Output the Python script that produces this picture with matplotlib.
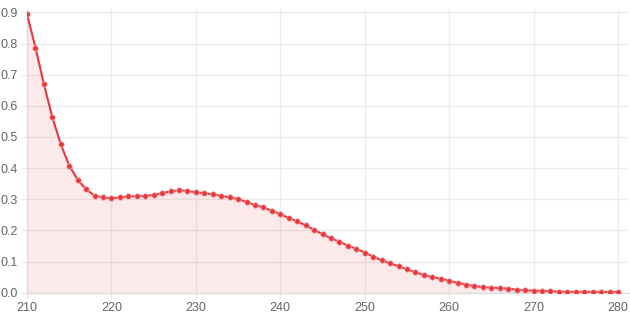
import numpy as np
import matplotlib
matplotlib.use('Agg')
import matplotlib.pyplot as plt

plt.rcParams['font.family'] = ['Liberation Sans', 'DejaVu Sans']

# wavelength (nm) and absorbance
wavelength = list(range(210, 281))
absorbance = [
    0.895, 0.787, 0.670, 0.563, 0.477, 0.408, 0.363, 0.332, 0.312, 0.306,  # 210-219
    0.303, 0.306, 0.309, 0.310, 0.311, 0.314, 0.320, 0.325, 0.329, 0.327,  # 220-229
    0.322, 0.319, 0.316, 0.311, 0.306, 0.301, 0.291, 0.282, 0.274, 0.263,  # 230-239
    0.252, 0.240, 0.229, 0.216, 0.202, 0.188, 0.175, 0.164, 0.151, 0.141,  # 240-249
    0.129, 0.116, 0.104, 0.094, 0.085, 0.075, 0.066, 0.057, 0.050, 0.045,  # 250-259
    0.039, 0.031, 0.026, 0.0215, 0.018, 0.016, 0.015, 0.013, 0.0097, 0.0077,  # 260-269
    0.0065, 0.0062, 0.0045, 0.0035, 0.003, 0.003, 0.0028, 0.0026, 0.0025, 0.0024,  # 270-279
    0.0023,  # 280
]
xticks = [210, 220, 230, 240, 250, 260, 270, 280]
yticks = [0.0, 0.1, 0.2, 0.3, 0.4, 0.5, 0.6, 0.7, 0.8, 0.9]

red = '#e8383d'
grid_col = '#ececec'
text_col = '#666666'

fig = plt.figure(figsize=(6.3, 3.15), dpi=100)
ax = fig.add_axes([27/630, 22.3/315, 602/630, 283.7/315])

ax.fill_between(wavelength, absorbance, 0, color=red, alpha=0.11, linewidth=0)
ax.plot(wavelength, absorbance, color=red, linewidth=1.5, zorder=3)
ax.plot(wavelength, absorbance, 'o', color=red, markersize=4,
        markeredgecolor='#f7b5b7', markeredgewidth=0.5, zorder=4)

# a little headroom above 0.9 like the reference
ax.set_xlim(210, 281.3)
ax.set_ylim(0, 0.911)
ax.set_xticks(xticks)
ax.set_yticks(yticks)
ax.set_yticklabels(['%.1f' % v for v in yticks])

ax.grid(True, color=grid_col, linewidth=1)
ax.set_axisbelow(True)
for side in ['top', 'right']:
    ax.spines[side].set_visible(False)
for side in ['left', 'bottom']:
    ax.spines[side].set_color('#dddddd')
    ax.spines[side].set_linewidth(1)
ax.tick_params(axis='both', colors=grid_col, labelcolor=text_col,
               labelsize=9, length=4, width=1, pad=2.5)

fig.savefig('out.png', dpi=100)
